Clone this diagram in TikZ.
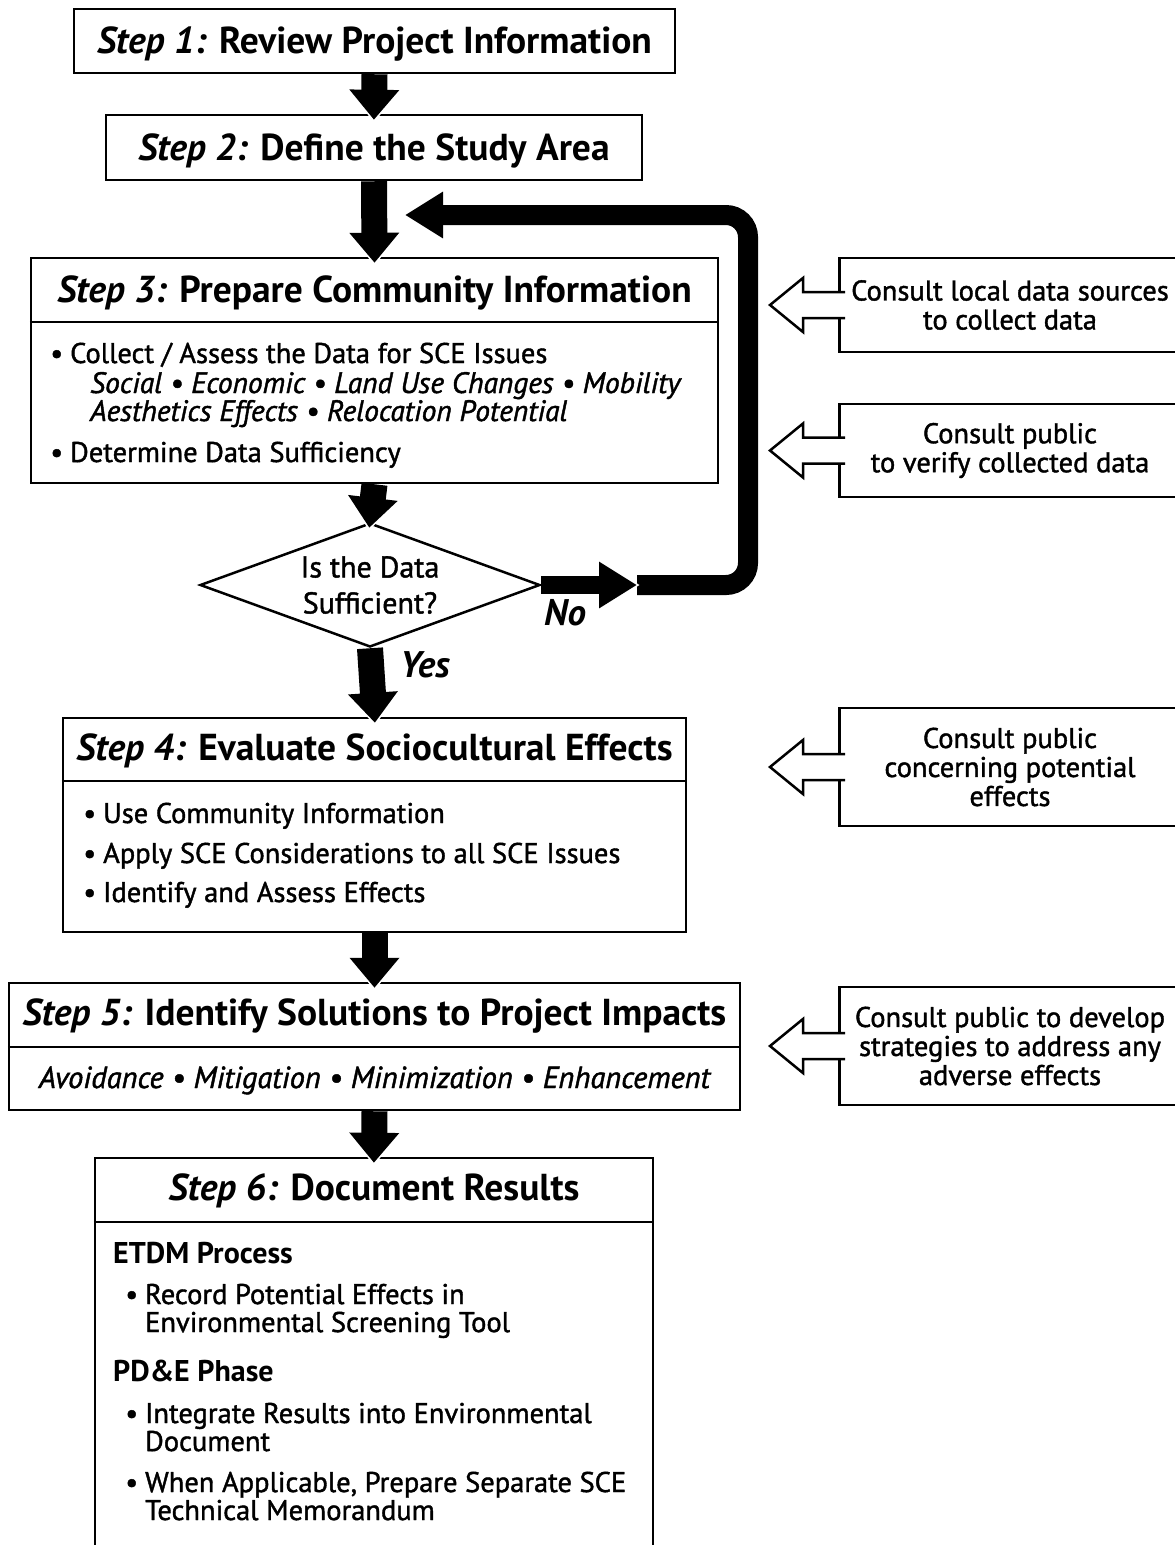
\documentclass[tikz,border=0pt]{standalone}
\usepackage{fontspec}
\setmainfont{PT Sans}
\newfontfamily\mediumfont{PT Sans}[FakeBold=1.4]
\usetikzlibrary{arrows.meta,shapes.geometric}

\newcommand\stepbullet{\llap{\textbullet\hspace{7pt}}}

\tikzset{%
  stepbox/.style     = {draw, line width=2.5pt, inner sep=0pt},
  divider/.style     = {line width=2.5pt},
  steptitle/.style   = {font=\fontsize{37.5}{40}\selectfont\bfseries, inner sep=0pt, anchor=base},
  stepline/.style    = {font=\mediumfont\fontsize{28.5}{30}\selectfont, inner sep=0pt, anchor=base west},
  steplineit/.style  = {stepline, font=\mediumfont\itshape\fontsize{29.5}{30}\selectfont},
  stephead/.style    = {stepline, font=\fontsize{30}{30}\selectfont\bfseries},
  halo/.style        = {preaction={draw=white, -{Triangle[width=54pt,length=36pt]}, shorten >=-9pt}},
  flow/.style        = {halo, line width=26pt, shorten >=-6pt, -{Triangle[width=48pt,length=30pt]}},
  noflow/.style      = {line width=18pt, -{Triangle[width=44pt,length=38pt]}},
  nohalo/.style      = {draw=white, line width=18pt, shorten >=-3pt, -{Triangle[width=52pt,length=44pt]}},
  backflow/.style    = {line width=20pt, rounded corners=22pt, -{Triangle[width=44pt,length=38pt]}},
  decision/.style    = {draw, diamond, aspect=2.7, line width=2.5pt, minimum width=340pt,
                        minimum height=124pt, inner sep=0pt, align=center,
                        font=\mediumfont\fontsize{30}{36}\selectfont},
  answer/.style      = {font=\fontsize{37}{38}\selectfont\bfseries\itshape, inner sep=0pt},
  consultbox/.style  = {draw, line width=2.5pt, minimum width=400pt, anchor=west},
  consulttext/.style = {font=\mediumfont\fontsize{28.5}{29}\selectfont, align=center, inner sep=0pt},
  consultarrow/.style= {line width=2.5pt, fill=white, line join=miter},
}

\begin{document}
\begin{tikzpicture}[x=1pt,y=-1pt]
\useasboundingbox (0,0) rectangle (1175,1545);
\clip (0,0) rectangle (1175,1545);

% Step boxes
\node[stepbox, minimum width=601pt, minimum height=64pt]  (s1) at (374.5,41)   {};
\node[stepbox, minimum width=536pt, minimum height=65pt]  (s2) at (374,147.5)  {};
\node[stepbox, minimum width=687pt, minimum height=225pt] (s3) at (374.5,370.5) {};
\node[stepbox, minimum width=623pt, minimum height=214pt] (s4) at (374.5,825)  {};
\node[stepbox, minimum width=731pt, minimum height=127pt] (s5) at (374.5,1046.5) {};
\node[stepbox, minimum width=558pt, minimum height=402pt] (s6) at (374,1359)   {};

\draw[divider] (s3.west |- 0,322)  -- (s3.east |- 0,322);
\draw[divider] (s4.west |- 0,781)  -- (s4.east |- 0,781);
\draw[divider] (s5.west |- 0,1047) -- (s5.east |- 0,1047);
\draw[divider] (s6.west |- 0,1222) -- (s6.east |- 0,1222);

% Titles
\node[steptitle] (t1) at (374.5,53)  {{\itshape Step 1:} Review Project Information};
\node[steptitle] (t2) at (374,160)   {{\itshape Step 2:} Define the Study Area};
\node[steptitle] (t3) at (374.5,302) {{\itshape Step 3:} Prepare Community Information};
\node[steptitle] (t4) at (374.5,760) {{\itshape Step 4:} Evaluate Sociocultural Effects};
\node[steptitle] (t5) at (374.5,1025) {{\itshape Step 5:} Identify Solutions to Project Impacts};
\node[steptitle] (t6) at (374,1200)  {{\itshape Step 6:} Document Results};

% Step 3 contents
\foreach \y/\txt [count=\i] in {363/{\stepbullet Collect / Assess the Data for SCE Issues},
                                462/{\stepbullet Determine Data Sufficiency}}
  \node[stepline] (b3-\i) at (70,\y) {\txt};
\foreach \y/\txt [count=\i] in {393/{Social \textbullet{} Economic \textbullet{} Land Use Changes \textbullet{} Mobility},
                                421/{Aesthetics Effects \textbullet{} Relocation Potential}}
  \node[steplineit] (i3-\i) at (90,\y) {\txt};

% Step 4 contents
\foreach \y/\txt [count=\i] in {823/{Use Community Information},
                                863/{Apply SCE Considerations to all SCE Issues},
                                902/{Identify and Assess Effects}}
  \node[stepline] (b4-\i) at (103,\y) {\stepbullet\txt};

% Step 5 contents
\node[steplineit, anchor=base, font=\mediumfont\itshape\fontsize{30.5}{31}\selectfont] (i5) at (374.5,1088)
  {Avoidance \textbullet{} Mitigation \textbullet{} Minimization \textbullet{} Enhancement};

% Step 6 contents
\node[stephead] (h6-1) at (113,1263) {ETDM Process};
\node[stephead] (h6-2) at (113,1381) {PD\&E Phase};
\foreach \y/\txt [count=\i] in {1304/{\stepbullet Record Potential Effects in},
                                1332/{Environmental Screening Tool},
                                1423/{\stepbullet Integrate Results into Environmental},
                                1451/{Document},
                                1492/{\stepbullet When Applicable, Prepare Separate SCE},
                                1520/{Technical Memorandum}}
  \node[stepline] (b6-\i) at (145,\y) {\txt};

% Decision
\node[decision] (d) at (370,585) {Is the Data\\Sufficient?};
\coordinate (noend)   at (637,585);
\coordinate (loopturn) at (748,215);
\coordinate (loopend) at (405,215);

% Flow
\draw[flow] (s1.south) -- (s2.north);
\draw[flow] (s2.south) -- (s3.north);
\draw[flow] (s3.south) -- (d.north);
\draw[flow] (d.south)  -- (s4.north);
\draw[flow] (s4.south) -- (s5.north);
\draw[flow] (s5.south) -- (s6.north);

\draw[backflow] (noend) -| (loopturn) -- (loopend);
\draw[nohalo]   (d.east) -- (noend);
\draw[noflow]   (d.east) -- (noend);

\node[answer] (no)  at (565,613) {No};
\node[answer] (yes) at (425,665) {Yes};

% Consult boxes
\node[consultbox, minimum height=94pt]  (c1) at (838,305)   {};
\node[consultbox, minimum height=93pt]  (c2) at (838,450.5) {};
\node[consultbox, minimum height=118pt] (c3) at (838,767)   {};
\node[consultbox, minimum height=118pt] (c4) at (838,1046)  {};

\node[consulttext] (c1t) at (1010,305)   {Consult local data sources\\to collect data};
\node[consulttext] (c2t) at (1010,450.5) {Consult public\\to verify collected data};
\node[consulttext] (c3t) at (1010,767)   {Consult public\\concerning potential\\effects};
\node[consulttext] (c4t) at (1010,1046)  {Consult public to develop\\strategies to address any\\adverse effects};

\foreach \c in {c1,c2,c3,c4}
  \draw[consultarrow] (\c.west) ++(7,-13) -- ++(-42,0) -- ++(0,-14) -- ++(-33,27)
                      -- ++(33,27) -- ++(0,-14) -- ++(42,0);

\end{tikzpicture}
\end{document}
